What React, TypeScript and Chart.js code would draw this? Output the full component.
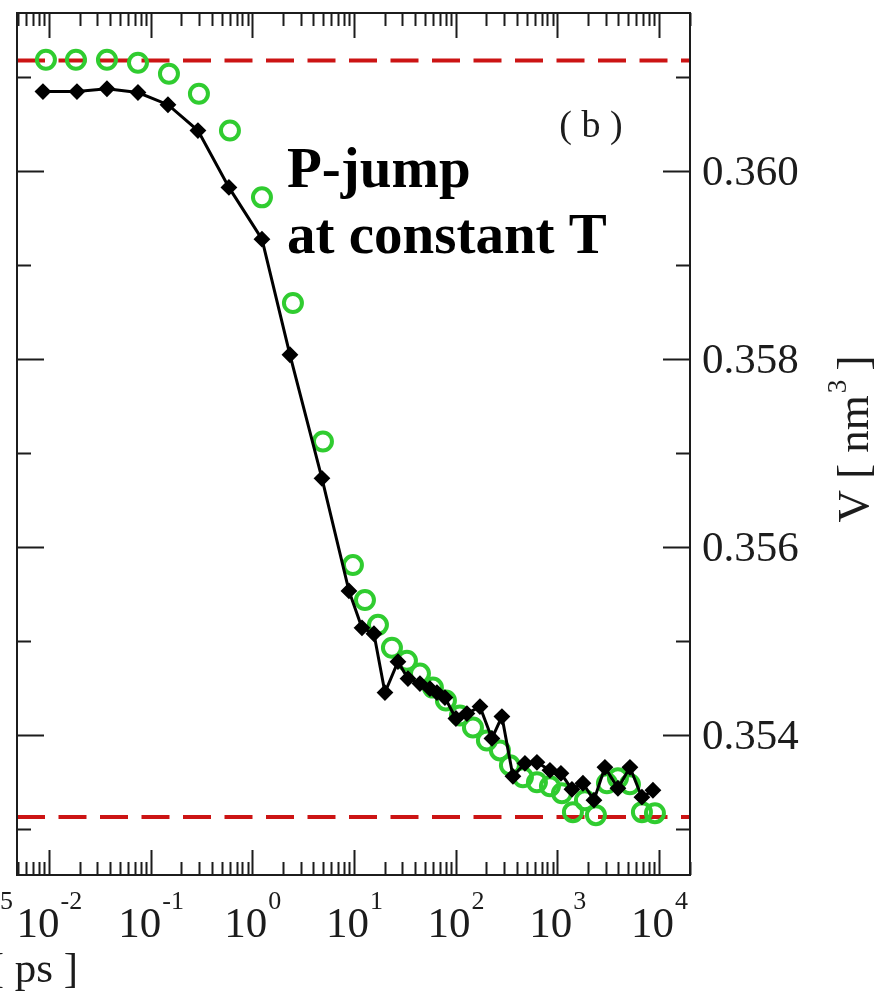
import React, { useEffect, useRef } from "react";
import { Chart, registerables } from "chart.js";

Chart.register(...registerables);

// ---- data ----
const BLACK_T = [0.00873, 0.01886, 0.0372, 0.0751, 0.1481, 0.2921, 0.5893, 1.245, 2.347, 4.844, 8.93, 11.99, 15.73, 20.18, 27.09, 33.97, 44.58, 55.9, 65.5, 78.5, 100.7, 129.2, 173.5, 227.7, 285.4, 366.3, 480.6, 630.8, 846.8, 1086, 1394, 1788, 2294, 2942, 3949, 5183, 6800, 8727];
const BLACK_V = [0.36085, 0.36085, 0.36088, 0.36084, 0.36071, 0.360435, 0.35983, 0.359279, 0.358049, 0.356734, 0.355536, 0.355143, 0.35508, 0.354454, 0.354783, 0.354603, 0.35455, 0.354496, 0.354454, 0.354401, 0.354178, 0.354231, 0.354305, 0.353966, 0.354199, 0.353563, 0.353701, 0.353712, 0.353627, 0.353595, 0.353425, 0.353489, 0.353309, 0.353659, 0.353436, 0.353659, 0.353341, 0.353415];

const GREEN_T = [0.00934, 0.01843, 0.0372, 0.0751, 0.1515, 0.2987, 0.603, 1.245, 2.511, 4.955, 9.77, 12.83, 17.22, 23.64, 33.2, 44.58, 59.8, 80.3, 110.3, 148.1, 203.2, 272.9, 342.1, 459.3, 630.8, 846.8, 1111, 1425, 1870, 2399, 3079, 3949, 5183, 6800, 9131];
const GREEN_V = [0.361188, 0.361188, 0.361188, 0.361156, 0.361039, 0.360827, 0.360435, 0.359724, 0.3586, 0.357126, 0.355811, 0.35544, 0.355175, 0.354931, 0.354793, 0.354656, 0.354507, 0.354369, 0.35421, 0.354083, 0.353945, 0.353839, 0.35368, 0.353553, 0.3535, 0.353457, 0.353383, 0.353182, 0.353309, 0.35315, 0.353489, 0.353542, 0.353478, 0.353182, 0.353171];

const REF_LINES = [0.36118, 0.35313];

const X_MIN = 0.00485;
const X_MAX = 20200;
const Y_MIN = 0.352513;
const Y_MAX = 0.361686;

const X_EXPONENTS = [-2, -1, 0, 1, 2, 3, 4];
const Y_MAJOR = [0.354, 0.356, 0.358, 0.36];
const Y_MAJOR_LABELS = ["0.354", "0.356", "0.358", "0.360"];
const Y_MINOR = [0.353, 0.355, 0.357, 0.359, 0.361];

const PANEL_LABEL = "( b )";
const NOTE_LINE1 = "P-jump";
const NOTE_LINE2 = "at constant T";

const SERIF = "'Liberation Serif', 'DejaVu Serif', serif";
const INK = "#1c1c1c";

const framePlugin = {
  id: "frameTicks",
  afterDatasetsDraw(chart: any) {
    const { ctx, chartArea, scales } = chart;
    const xs = scales.x;
    const ys = scales.y;
    const { left, right, top, bottom } = chartArea;
    ctx.save();
    ctx.strokeStyle = INK;
    ctx.lineWidth = 2;
    for (let k = -3; k <= 4; k++) {
      for (let m = 1; m <= 9; m++) {
        const v = m * Math.pow(10, k);
        if (v < X_MIN || v > X_MAX) continue;
        const px = Math.round(xs.getPixelForValue(v)) + 0.5;
        const len = m === 1 ? 25 : 13;
        ctx.beginPath();
        ctx.moveTo(px, bottom);
        ctx.lineTo(px, bottom - len);
        ctx.moveTo(px, top);
        ctx.lineTo(px, top + len);
        ctx.stroke();
      }
    }
    const yt = (v: number, len: number) => {
      const py = Math.round(ys.getPixelForValue(v)) + 0.5;
      ctx.beginPath();
      ctx.moveTo(left, py);
      ctx.lineTo(left + len, py);
      ctx.moveTo(right, py);
      ctx.lineTo(right - len, py);
      ctx.stroke();
    };
    Y_MAJOR.forEach((v) => yt(v, 27));
    Y_MINOR.forEach((v) => yt(v, 14));
    ctx.strokeRect(left, top, right - left, bottom - top);
    ctx.restore();
  },
  afterDraw(chart: any) {
    const { ctx, chartArea, scales } = chart;
    const xs = scales.x;
    const ys = scales.y;
    ctx.save();
    ctx.fillStyle = INK;
    X_EXPONENTS.forEach((e) => {
      const px = xs.getPixelForValue(Math.pow(10, e));
      ctx.font = `43px ${SERIF}`;
      const w1 = ctx.measureText("10").width;
      ctx.font = `26px ${SERIF}`;
      const sup = String(e);
      const w2 = ctx.measureText(sup).width;
      const start = px - (w1 + w2) / 2;
      ctx.textAlign = "left";
      ctx.textBaseline = "alphabetic";
      ctx.font = `43px ${SERIF}`;
      ctx.fillText("10", start, 937);
      ctx.font = `26px ${SERIF}`;
      ctx.fillText(sup, start + w1 + 1, 909);
    });
    ctx.font = `43px ${SERIF}`;
    ctx.textAlign = "left";
    ctx.textBaseline = "middle";
    Y_MAJOR.forEach((v, i) => {
      ctx.fillText(Y_MAJOR_LABELS[i], chartArea.right + 12, ys.getPixelForValue(v) + 2);
    });
    ctx.save();
    ctx.translate(868, 439);
    ctx.rotate(-Math.PI / 2);
    ctx.textBaseline = "alphabetic";
    ctx.font = `45px ${SERIF}`;
    const p1 = "V [ nm";
    const p3 = " ]";
    const w1 = ctx.measureText(p1).width;
    const w3 = ctx.measureText(p3).width;
    ctx.font = `27px ${SERIF}`;
    const w2 = ctx.measureText("3").width;
    const total = w1 + w2 + w3;
    const s = -total / 2;
    ctx.textAlign = "left";
    ctx.font = `45px ${SERIF}`;
    ctx.fillText(p1, s, 0);
    ctx.font = `27px ${SERIF}`;
    ctx.fillText("3", s + w1 + 2, -22);
    ctx.font = `45px ${SERIF}`;
    ctx.fillText(p3, s + w1 + w2, 0);
    ctx.restore();
    ctx.font = `38px ${SERIF}`;
    ctx.textAlign = "center";
    ctx.textBaseline = "alphabetic";
    ctx.fillText(PANEL_LABEL, 591, 137);
    ctx.fillStyle = "#000";
    ctx.font = `bold 57px ${SERIF}`;
    ctx.textAlign = "left";
    ctx.fillText(NOTE_LINE1, 287, 187);
    ctx.fillText(NOTE_LINE2, 287, 253);
    ctx.fillStyle = INK;
    ctx.font = `26px ${SERIF}`;
    ctx.textAlign = "right";
    ctx.fillText("5", 13, 909);
    ctx.font = `43px ${SERIF}`;
    ctx.fillText("[ ps ]", 78, 982);
    ctx.restore();
  },
};

export default function App() {
  const ref = useRef<HTMLCanvasElement | null>(null);
  useEffect(() => {
    if (!ref.current) return;
    const black = BLACK_T.map((t, i) => ({ x: t, y: BLACK_V[i] }));
    const green = GREEN_T.map((t, i) => ({ x: t, y: GREEN_V[i] }));
    const refDatasets = REF_LINES.map((v) => ({
      data: [
        { x: X_MIN, y: v },
        { x: X_MAX, y: v },
      ],
      showLine: true,
      borderColor: "#cc1414",
      borderWidth: 4,
      borderDash: [28, 13.5],
      pointRadius: 0,
      order: 3,
    }));
    const chart = new Chart(ref.current, {
      type: "scatter",
      data: {
        datasets: [
          {
            data: black,
            showLine: true,
            borderColor: "#000",
            borderWidth: 3,
            pointStyle: "rectRot",
            pointRadius: 7,
            pointBackgroundColor: "#000",
            pointBorderColor: "#000",
            pointBorderWidth: 2,
            order: 0,
          },
          {
            data: green,
            showLine: false,
            pointStyle: "circle",
            pointRadius: 9,
            pointBorderWidth: 4,
            pointBorderColor: "#30cc30",
            pointBackgroundColor: "rgba(0,0,0,0)",
            order: 1,
          },
          ...refDatasets,
        ] as any,
      },
      options: {
        animation: false,
        responsive: false,
        layout: { padding: { left: 17, top: 10, right: 186, bottom: 119 } },
        plugins: { legend: { display: false }, tooltip: { enabled: false } },
        scales: {
          x: { type: "logarithmic", min: X_MIN, max: X_MAX, display: false },
          y: { type: "linear", min: Y_MIN, max: Y_MAX, display: false },
        },
      },
      plugins: [framePlugin],
    });
    return () => chart.destroy();
  }, []);
  return (
    <div style={{ position: "fixed", left: 0, top: 0, width: 876, height: 994, background: "#fff" }}>
      <canvas ref={ref} width={876} height={994} />
    </div>
  );
}
